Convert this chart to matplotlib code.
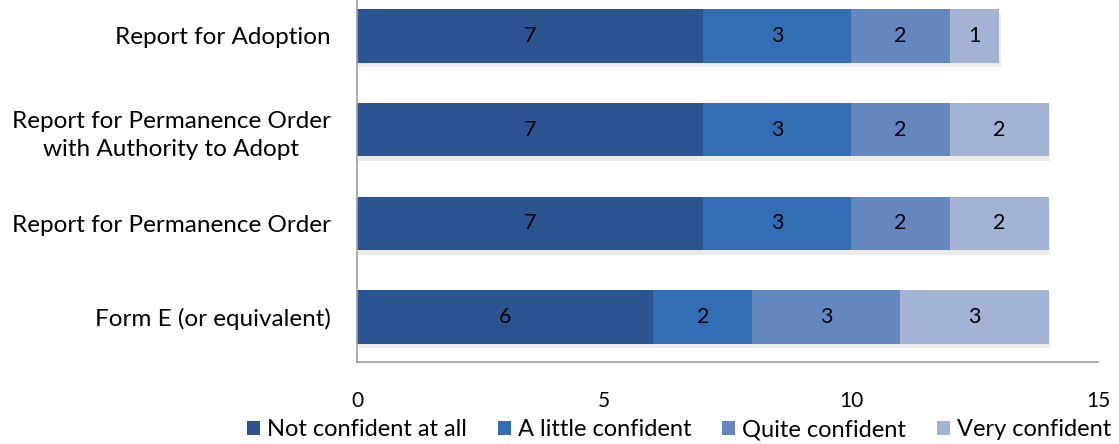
import matplotlib
matplotlib.use("Agg")
import matplotlib.pyplot as plt
from matplotlib.patches import Patch

categories = ["Form E (or equivalent)", "Report for Permanence Order",
              "Report for Permanence Order\nwith Authority to Adopt", "Report for Adoption"]
series_names = ["Not confident at all", "A little confident", "Quite confident", "Very confident"]
not_confident = [6, 7, 7, 7]
little_confident = [2, 3, 3, 3]
quite_confident = [3, 2, 2, 2]
very_confident = [3, 2, 2, 1]
x_ticks = [0, 5, 10, 15]

series = [not_confident, little_confident, quite_confident, very_confident]
colors = ["#2b5590", "#336db5", "#6487bf", "#a2b3d4"]

plt.rcParams['font.family'] = ['Lato', 'DejaVu Sans']

fig = plt.figure(figsize=(11.19, 4.44), dpi=100)
ax = fig.add_axes([0.319, 0.1847, 0.6622, 0.8153])

ypos = list(range(len(categories)))
left = [0] * len(categories)
for vals, col in zip(series, colors):
    # soft shadow
    ax.barh([y - 0.05 for y in ypos], vals, left=[l + 0.03 for l in left], height=0.57,
            color="#d8d8d8", alpha=0.5, zorder=1)
    bars = ax.barh(ypos, vals, left=left, height=0.57, color=col, zorder=2)
    for b, v in zip(bars, vals):
        ax.text(b.get_x() + b.get_width() / 2, b.get_y() + b.get_height() / 2, str(v),
                ha="center", va="center", fontsize=15.5, color="black", zorder=3)
    left = [l + v for l, v in zip(left, vals)]

ax.set_xlim(0, 15)
ax.set_ylim(-0.48, 3.384)
ax.set_xticks(x_ticks)
ax.set_xticklabels([str(t) for t in x_ticks], fontsize=15)
ax.tick_params(axis="x", length=0, pad=21)
ax.set_yticks(ypos)
ax.set_yticklabels(categories, fontsize=17.5, ha="right", multialignment="center",
                   linespacing=1.45)
ax.tick_params(axis="y", length=0, pad=19)
for s in ["top", "right"]:
    ax.spines[s].set_visible(False)
for s in ["left", "bottom"]:
    ax.spines[s].set_color("#a0a0a0")
    ax.spines[s].set_linewidth(1.2)

handles = [Patch(facecolor=c, label=n) for c, n in zip(colors, series_names)]
fig.legend(handles=handles, loc="center", bbox_to_anchor=(0.607, 0.032), ncol=4,
           frameon=False, fontsize=17, handlelength=0.55, handleheight=0.55,
           handletextpad=0.3, columnspacing=1.3, borderaxespad=0)

fig.savefig("out.png", dpi=100)
